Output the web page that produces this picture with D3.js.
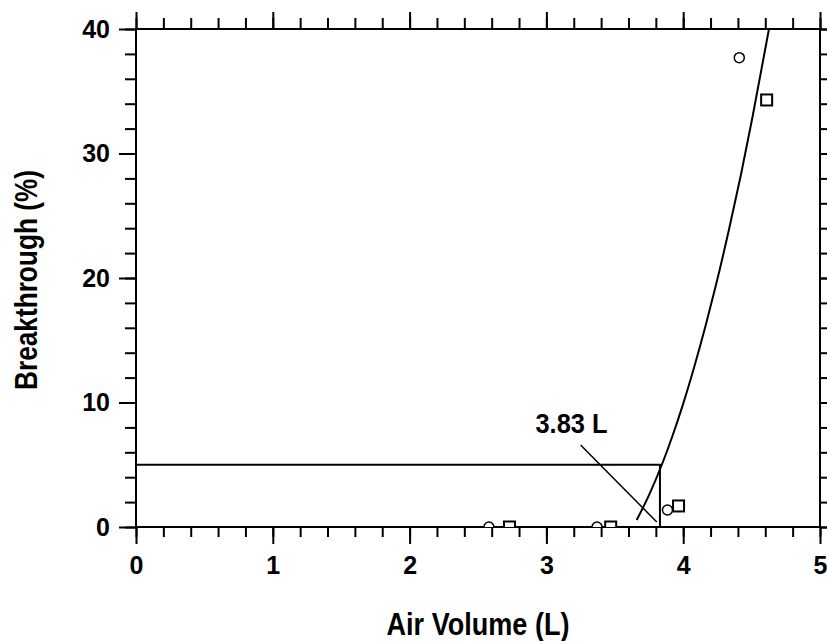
<!DOCTYPE html>
<html lang="en">
<head>
<meta charset="utf-8" />
<title>Breakthrough</title>
<script src="https://d3js.org/d3.v7.min.js"></script>
<style>
  body { margin: 0; background: #fff; }
  text { font-family: "Liberation Sans", Arial, sans-serif; font-weight: bold; fill: #000; }
</style>
</head>
<body>
<div id="chart"></div>
<script>
// data
var diamondX = [2.58, 3.37, 3.885, 4.41];
var diamondY = [0, 0, 1.37, 37.7];
var squareX = [2.73, 3.47, 3.966, 4.61];
var squareY = [0, 0, 1.69, 34.3];

// fitted curve
var fitX = [3.66, 3.75, 3.848, 3.922, 3.995, 4.080, 4.166, 4.239, 4.336, 4.422, 4.507, 4.627];
var fitY = [0.56, 2.56, 5.12, 7.33, 9.73, 12.83, 16.26, 19.41, 23.95, 28.3, 32.95, 40];

var xMajor = [0, 1, 2, 3, 4, 5];
var yMajor = [0, 10, 20, 30, 40];
var cutoffY = 5;
var cutoffX = 3.83;
var cutoffLabel = "3.83 L";

var width = 827, height = 641;
var margin = { top: 29, right: 7, bottom: 114, left: 136 };

var svg = d3.select("#chart").append("svg")
  .attr("width", width)
  .attr("height", height);

var x = d3.scaleLinear().domain([0, 5]).range([margin.left, width - margin.right]);
var y = d3.scaleLinear().domain([0, 40]).range([height - margin.bottom, margin.top]);

var xMinor = d3.range(0, 5.001, 0.2);
var yMinor = d3.range(0, 40.001, 2);

svg.append("clipPath").attr("id", "plot")
  .append("rect")
  .attr("x", x(0)).attr("y", y(40))
  .attr("width", x(5) - x(0)).attr("height", y(0) - y(40));

function styleAxis(g) {
  g.selectAll("line").attr("stroke", "#000").attr("stroke-width", 2);
  g.select(".domain").remove();
}

// minor ticks
svg.append("g").attr("transform", "translate(0," + y(0) + ")")
  .call(d3.axisBottom(x).tickValues(xMinor).tickSize(10).tickFormat("")).call(styleAxis);
svg.append("g").attr("transform", "translate(0," + y(40) + ")")
  .call(d3.axisTop(x).tickValues(xMinor).tickSize(11).tickFormat("")).call(styleAxis);
svg.append("g").attr("transform", "translate(" + x(0) + ",0)")
  .call(d3.axisLeft(y).tickValues(yMinor).tickSize(11).tickFormat("")).call(styleAxis);
svg.append("g").attr("transform", "translate(" + x(5) + ",0)")
  .call(d3.axisRight(y).tickValues(yMinor).tickSize(11).tickFormat("")).call(styleAxis);

// major ticks with labels
svg.append("g").attr("transform", "translate(0," + y(0) + ")")
  .call(d3.axisBottom(x).tickValues(xMajor).tickSize(17).tickPadding(12).tickFormat(d3.format("d")))
  .call(styleAxis);
svg.append("g").attr("transform", "translate(" + x(0) + ",0)")
  .call(d3.axisLeft(y).tickValues(yMajor).tickSize(17).tickPadding(9).tickFormat(d3.format("d")))
  .call(styleAxis);
svg.append("g").attr("transform", "translate(0," + y(40) + ")")
  .call(d3.axisTop(x).tickValues(xMajor).tickSize(17).tickFormat("")).call(styleAxis);
svg.append("g").attr("transform", "translate(" + x(5) + ",0)")
  .call(d3.axisRight(y).tickValues(yMajor).tickSize(17).tickFormat("")).call(styleAxis);

svg.selectAll(".tick text")
  .attr("font-size", 25)
  .attr("font-family", "Liberation Sans, Arial, sans-serif")
  .attr("font-weight", "bold")
  .attr("fill", "#000");

// frame
svg.append("rect")
  .attr("x", x(0)).attr("y", y(40))
  .attr("width", x(5) - x(0)).attr("height", y(0) - y(40))
  .attr("fill", "none").attr("stroke", "#000").attr("stroke-width", 2);

// cutoff lines
svg.append("path")
  .attr("d", d3.line()([[x(0), y(cutoffY)], [x(cutoffX), y(cutoffY)], [x(cutoffX), y(0)]]))
  .attr("fill", "none").attr("stroke", "#000").attr("stroke-width", 2);

// fitted curve
var fitLine = d3.line()
  .x(function(d) { return x(d[0]); })
  .y(function(d) { return y(d[1]); })
  .curve(d3.curveMonotoneX);
svg.append("path")
  .datum(fitX.map(function(v, i) { return [v, fitY[i]]; }))
  .attr("d", fitLine)
  .attr("clip-path", "url(#plot)")
  .attr("fill", "none").attr("stroke", "#000").attr("stroke-width", 2);

// markers
var marks = svg.append("g").attr("clip-path", "url(#plot)");
marks.selectAll("circle")
  .data(diamondX.map(function(v, i) { return [v, diamondY[i]]; }))
  .enter().append("circle")
  .attr("cx", function(d) { return x(d[0]); })
  .attr("cy", function(d) { return y(d[1]); })
  .attr("r", 5)
  .attr("fill", "#fff").attr("stroke", "#000").attr("stroke-width", 1.5);
marks.selectAll("rect")
  .data(squareX.map(function(v, i) { return [v, squareY[i]]; }))
  .enter().append("rect")
  .attr("x", function(d) { return x(d[0]) - 5.5; })
  .attr("y", function(d) { return y(d[1]) - 5.5; })
  .attr("width", 11).attr("height", 11)
  .attr("fill", "#fff").attr("stroke", "#000").attr("stroke-width", 2);

// annotation
svg.append("line")
  .attr("x1", x(3.25)).attr("y1", y(6.59))
  .attr("x2", x(3.807)).attr("y2", y(0.4))
  .attr("stroke", "#000").attr("stroke-width", 1.5);
svg.append("text")
  .attr("x", x(2.92)).attr("y", y(7.55))
  .attr("font-size", 27)
  .attr("textLength", 72).attr("lengthAdjust", "spacingAndGlyphs")
  .text(cutoffLabel);

// axis titles
svg.append("text")
  .attr("x", (x(0) + x(5)) / 2).attr("y", 635)
  .attr("text-anchor", "middle")
  .attr("font-size", 32)
  .attr("textLength", 183).attr("lengthAdjust", "spacingAndGlyphs")
  .text("Air Volume (L)");
svg.append("text")
  .attr("transform", "translate(37,280) rotate(-90)")
  .attr("text-anchor", "middle")
  .attr("font-size", 32)
  .attr("textLength", 220).attr("lengthAdjust", "spacingAndGlyphs")
  .text("Breakthrough (%)");
</script>
</body>
</html>
